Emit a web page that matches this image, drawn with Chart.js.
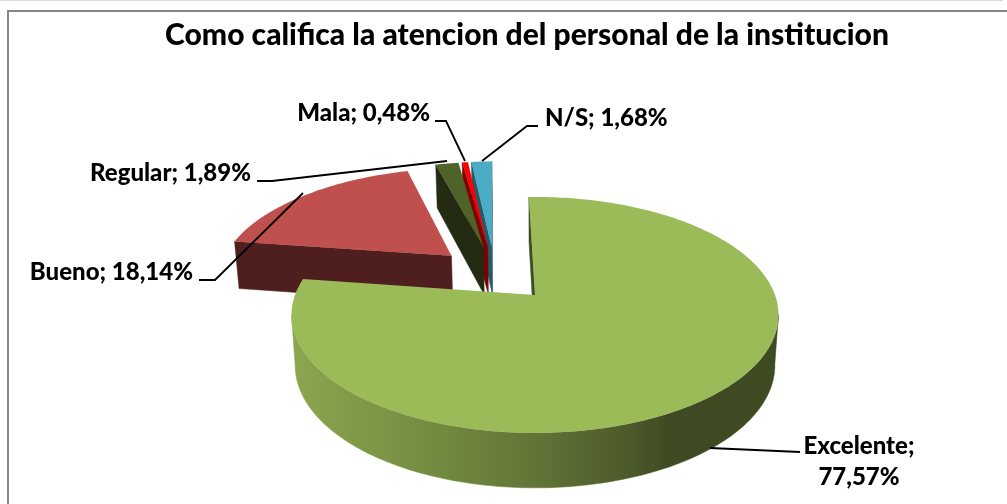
<!DOCTYPE html>
<html><head><meta charset="utf-8">
<style>html,body{margin:0;padding:0;background:#fff}#w{width:1007px;height:504px}canvas{display:block}</style>
<script src="https://cdn.jsdelivr.net/npm/chart.js@4"></script></head>
<body><div id="w"><canvas id="c" width="1007" height="504"></canvas></div>
<script>
const titleText = 'Como califica la atencion del personal de la institucion';
const categories = ['Excelente', 'Bueno', 'Regular', 'Mala', 'N/S'];
const percentValues = [77.57, 18.14, 1.89, 0.48, 1.68];
const topColors = ['#9bbb59', '#c0504d', '#4f6228', '#ff0000', '#4bacc6'];
const wallColors = ['#3e4a21', '#4f1f1f', '#232c12', '#7f0000', '#245b6a'];

const FONT = 'Lato';
const view = {shiftX: 8, tilt: 0.4775, persp: 0.169, depth: 0.206, depthPersp: 0.1, bottomScale: 0.985, explode: 0.26, steps: 360};
const labelSpots = [
  {lines: ['Excelente;', '77,57%'], x: 859, y: 446, align: 'center', lead: [[710,448],[800,452]]},
  {lines: ['Bueno; 18,14%'], x: 193, y: 272, align: 'right', lead: [[199,280],[215,280],[303,193]]},
  {lines: ['Regular; 1,89%'], x: 251, y: 173, align: 'right', lead: [[257,181],[272,181],[447,161]]},
  {lines: ['Mala; 0,48%'], x: 430, y: 113, align: 'right', lead: [[435,121],[446,121],[465,161]]},
  {lines: ['N/S; 1,68%'], x: 545, y: 118, align: 'left', lead: [[538,126],[527,126],[482,161]]}
];

const pie3d = {
  id: 'pie3d',
  beforeDraw(chart) {
    const ctx = chart.ctx;
    ctx.save();
    ctx.fillStyle = '#fff'; ctx.fillRect(0, 0, 1007, 504);
    ctx.fillStyle = '#d9d9d9'; ctx.fillRect(0, 0, 1003, 1);
    ctx.strokeStyle = '#868686'; ctx.lineWidth = 2;
    ctx.strokeRect(8, 11, 1100, 600);
    ctx.restore();
  },
  beforeDatasetsDraw(chart) {
    const ctx = chart.ctx, arcs = chart.getDatasetMeta(0).data;
    const mid = a => (a.startAngle + a.endAngle) / 2;
    const m0 = mid(arcs[0]);
    const R = arcs[0].outerRadius, ox = arcs[0].x + view.shiftX, oy = arcs[0].y - 1;
    const proj = (ux, uy, low) => {
      const w = 1 - view.persp * uy;
      let x = R * ux / w, y = R * view.tilt * uy / w;
      if (low) { x *= view.bottomScale; y += R * view.depth / (1 - view.depthPersp * uy); }
      return [ox + x, oy + y];
    };
    const wallFill = i => {
      if (i !== 0) return wallColors[i];
      const g = ctx.createLinearGradient(ox - R, 0, ox + R, 0);
      g.addColorStop(0, '#8ba54f'); g.addColorStop(0.28, '#748c41');
      g.addColorStop(0.5, '#627537'); g.addColorStop(0.7, '#4c592a');
      g.addColorStop(0.78, '#3f4a22'); g.addColorStop(1, '#3e4a21');
      return g;
    };
    const wall = (pts, fill) => {
      ctx.beginPath();
      pts.forEach((p, j) => { const A = proj(p[0], p[1]); j ? ctx.lineTo(...A) : ctx.moveTo(...A); });
      for (let j = pts.length - 1; j >= 0; j--) ctx.lineTo(...proj(pts[j][0], pts[j][1], true));
      ctx.closePath();
      ctx.fillStyle = fill; ctx.strokeStyle = fill; ctx.lineWidth = 0.5; ctx.fill(); ctx.stroke();
    };
    const faces = (p, q) => proj(q[0], q[1])[0] < proj(p[0], p[1])[0];
    for (let i = arcs.length - 1; i >= 0; i--) {
      const a = arcs[i], m = mid(a);
      const sx = view.explode * (Math.cos(m) - Math.cos(m0));
      const sy = view.explode * (Math.sin(m) - Math.sin(m0));
      const n = Math.max(2, Math.ceil((a.endAngle - a.startAngle) / (2 * Math.PI) * view.steps));
      const rim = [];
      for (let k = 0; k <= n; k++) {
        const t = a.startAngle + (a.endAngle - a.startAngle) * k / n;
        rim.push([sx + Math.cos(t), sy + Math.sin(t)]);
      }
      const apex = [sx, sy];
      if (faces(apex, rim[0])) wall([apex, rim[0]], wallColors[i]);
      if (faces(rim[n], apex)) wall([rim[n], apex], wallColors[i]);
      let run = [];
      for (let k = 0; k < n; k++) {
        if (faces(rim[k], rim[k + 1])) { if (!run.length) run.push(rim[k]); run.push(rim[k + 1]); }
      }
      if (run.length) wall(run, wallFill(i));
      ctx.beginPath(); ctx.moveTo(...proj(apex[0], apex[1]));
      rim.forEach(p => ctx.lineTo(...proj(p[0], p[1])));
      ctx.closePath();
      ctx.fillStyle = a.options.backgroundColor; ctx.fill();
    }
    return false;
  },
  afterDraw(chart) {
    const ctx = chart.ctx;
    ctx.save();
    ctx.fillStyle = '#000'; ctx.strokeStyle = '#000'; ctx.lineWidth = 1.8;
    ctx.font = '900 24px ' + FONT; ctx.textBaseline = 'middle';
    labelSpots.forEach(s => {
      ctx.textAlign = s.align;
      s.lines.forEach((l, j) => ctx.fillText(l, s.x, s.y + j * 31));
      ctx.beginPath();
      s.lead.forEach((p, j) => j ? ctx.lineTo(p[0], p[1]) : ctx.moveTo(p[0], p[1]));
      ctx.stroke();
    });
    ctx.restore();
  }
};

new Chart(document.getElementById('c'), {
  type: 'pie',
  data: {labels: categories, datasets: [{data: percentValues, backgroundColor: topColors, borderWidth: 0}]},
  plugins: [pie3d],
  options: {
    responsive: false, animation: false, rotation: -1.7, radius: 240,
    layout: {padding: {left: 47}},
    plugins: {
      legend: {display: false}, tooltip: {enabled: false},
      title: {display: true, text: titleText, color: '#000', font: {family: FONT, size: 30, weight: '900', lineHeight: 1.2}, padding: {top: 17, bottom: 35}}
    }
  }
});
</script></body></html>
